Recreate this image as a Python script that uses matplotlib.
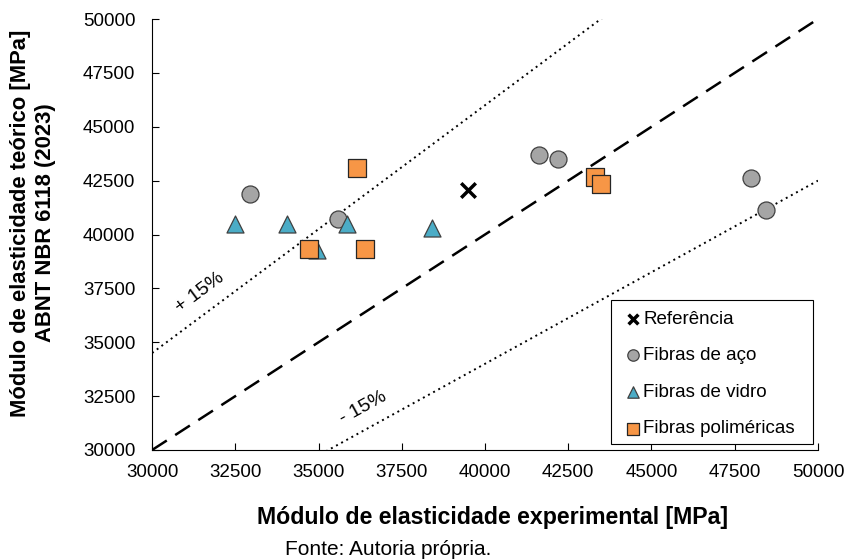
import matplotlib.pyplot as plt
from matplotlib.patches import Rectangle
import numpy as np

plt.rcParams['font.family'] = ['Liberation Sans', 'DejaVu Sans']

# data
ref_x = [39500]
ref_y = [42050]

aco_x = [32950, 35580, 41620, 42200, 47990, 48450]
aco_y = [41900, 40700, 43700, 43500, 42640, 41120]

vidro_x = [32500, 34050, 35850, 34950, 38400]
vidro_y = [40480, 40500, 40500, 39300, 40300]

poli_x = [36150, 34720, 36400, 43300, 43480]
poli_y = [43100, 39350, 39350, 42670, 42360]

line_x = np.array([30000, 50000])

fig = plt.figure(figsize=(8.45, 5.59), dpi=100)
ax = fig.add_axes([0.18, 0.195, 0.788, 0.771])

# reference lines: 1:1 and +/- 15 %
ax.plot(line_x, line_x, color='black', ls=(0, (7, 4)), lw=1.8, zorder=1)
ax.plot(line_x, 1.15 * line_x, color='black', ls=(0, (1, 2)), lw=1.4, zorder=1)
ax.plot(line_x, 0.85 * line_x, color='black', ls=(0, (1, 2)), lw=1.4, zorder=1)

ax.scatter(ref_x, ref_y, marker='x', s=110, color='black', linewidths=2.5,
           label='Referência', zorder=3)
ax.scatter(aco_x, aco_y, marker='o', s=150, color='#A5A5A5', edgecolors='#404040',
           linewidths=0.9, label='Fibras de aço', zorder=3)
ax.scatter(vidro_x, vidro_y, marker='^', s=150, color='#4BACC6', edgecolors='#404040',
           linewidths=0.9, label='Fibras de vidro', zorder=4)
ax.scatter(poli_x, poli_y, marker='s', s=150, color='#F79646', edgecolors='#262626',
           linewidths=0.9, label='Fibras poliméricas', zorder=5)

ax.text(31440, 37300, '+ 15%', rotation=36.6, fontsize=14, ha='center', va='center')
ax.text(36350, 31950, '- 15%', rotation=28.8, fontsize=14, ha='center', va='center')

ax.set_xlim(30000, 50000)
ax.set_ylim(30000, 50000)
ax.set_xticks(np.arange(30000, 50001, 2500))
ax.set_yticks(np.arange(30000, 50001, 2500))
ax.tick_params(axis='x', direction='in', length=5, labelsize=13.5, pad=10)
ax.tick_params(axis='y', direction='in', length=5, labelsize=13.5, pad=12)
ax.spines['top'].set_visible(False)
ax.spines['right'].set_visible(False)

fig.text(0.583, 0.0626, 'Módulo de elasticidade experimental [MPa]', fontsize=16.7,
         fontweight='bold', ha='center', va='baseline')
fig.text(0.039, 0.601, 'Módulo de elasticidade teórico [MPa]\nABNT NBR 6118 (2023)',
         fontsize=15.8, fontweight='bold', rotation=90, ha='center', va='center',
         multialignment='center')
fig.text(0.337, 0.008, 'Fonte: Autoria própria.', fontsize=15, ha='left', va='baseline')

# legend box drawn separately (wider padding like the original)
ax.add_patch(Rectangle((0.7231, 0.2057), 0.2391, 0.2576, transform=fig.transFigure,
                       facecolor='white', edgecolor='black', lw=0.8, zorder=4.5))
leg = ax.legend(loc='upper left', bbox_to_anchor=(0.7231, 0.4597),
                bbox_transform=fig.transFigure, borderaxespad=0, fontsize=13.5,
                frameon=False, handletextpad=-0.18, labelspacing=1.04,
                markerscale=0.67, borderpad=0.45, handlelength=1.45)
leg.set_zorder(5)

fig.savefig('out.png', dpi=100)
